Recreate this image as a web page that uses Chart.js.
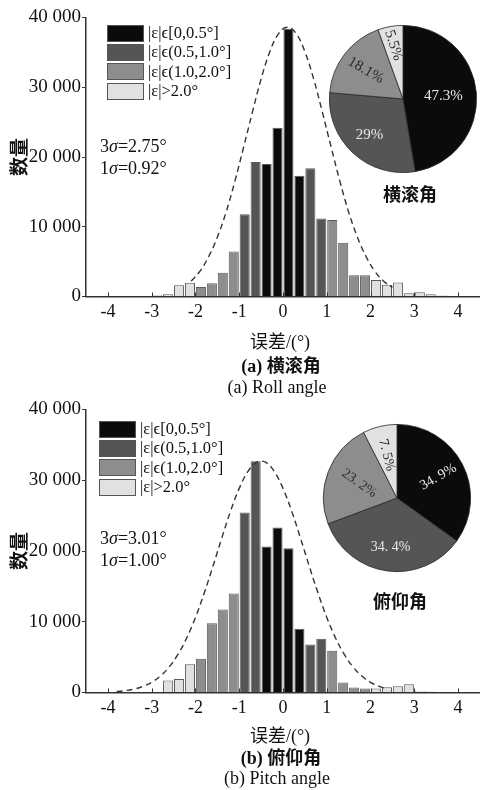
<!DOCTYPE html>
<html>
<head>
<meta charset="utf-8">
<script src="https://cdn.jsdelivr.net/npm/chart.js@4.4.1/dist/chart.umd.min.js"></script>
<style>
  html, body { margin: 0; padding: 0; background: #fff; }
  #page { position: relative; width: 480px; height: 790px; overflow: hidden;
          font-family: "Liberation Serif", "Noto Sans CJK SC", serif; color: #111; }
  canvas { position: absolute; }
  .t { position: absolute; white-space: nowrap; line-height: 1; }
  .c { transform: translate(-50%, -50%); }
  .l { transform: translateY(-50%); }
  .b { font-weight: bold; }
  .legend { position: absolute; font-size: 16.5px; }
  .row { display: flex; align-items: center; height: 19.3px; }
  .sw { width: 37px; height: 17px; border: 1px solid #555; box-sizing: border-box; margin-right: 4px; }
</style>
</head>
<body>
<div id="page">
  <canvas id="rollHist" width="480" height="340" style="left:0;top:0"></canvas>
  <canvas id="rollPie" width="150" height="150" style="left:328px;top:24px"></canvas>
  <canvas id="pitchHist" width="480" height="340" style="left:0;top:396px"></canvas>
  <canvas id="pitchPie" width="150" height="150" style="left:322px;top:423px"></canvas>

  <div class="legend" id="rollLegend" style="left:107px;top:23.5px"></div>
  <div class="t l" style="left:100px;top:146px;font-size:18px">3<i>σ</i>=2.75°</div>
  <div class="t l" style="left:100px;top:168px;font-size:18px">1<i>σ</i>=0.92°</div>
  <div class="t c b" style="left:410px;top:195px;font-size:18px">横滚角</div>
  <div class="t c" style="left:280px;top:342px;font-size:18px">误差/(°)</div>
  <div class="t c b" style="left:281px;top:366px;font-size:18px">(a) 横滚角</div>
  <div class="t c" style="left:277px;top:387px;font-size:18px">(a) Roll angle</div>

  <div class="legend" id="pitchLegend" style="left:99px;top:419.5px"></div>
  <div class="t l" style="left:100px;top:538px;font-size:18px">3<i>σ</i>=3.01°</div>
  <div class="t l" style="left:100px;top:560px;font-size:18px">1<i>σ</i>=1.00°</div>
  <div class="t c b" style="left:400px;top:602px;font-size:18px">俯仰角</div>
  <div class="t c" style="left:280px;top:736px;font-size:18px">误差/(°)</div>
  <div class="t c b" style="left:281px;top:758px;font-size:18px">(b) 俯仰角</div>
  <div class="t c" style="left:277px;top:778px;font-size:18px">(b) Pitch angle</div>
</div>

<script>
// Histogram bins: centre of each 0.25° bin
const binCenters = [-3.625, -3.375, -3.125, -2.875, -2.625, -2.375, -2.125, -1.875, -1.625, -1.375,
                    -1.125, -0.875, -0.625, -0.375, -0.125, 0.125, 0.375, 0.625, 0.875, 1.125,
                    1.375, 1.625, 1.875, 2.125, 2.375, 2.625, 2.875, 3.125, 3.375, 3.625];

// Roll-angle error counts per bin
const rollCounts = [0, 0, 0, 190, 330, 1620, 1960, 1360, 1910, 3420,
                    6450, 11800, 19300, 19000, 24200, 38400, 17300, 18400, 11200, 10950,
                    7700, 3050, 3050, 2360, 1670, 2000, 450, 620, 310, 150];

// Pitch-angle error counts per bin
const pitchCounts = [80, 0, 0, 0, 1690, 1920, 3990, 4780, 9800, 11730,
                     13980, 25430, 32700, 20650, 23320, 20400, 9000, 6800, 7600, 5910,
                     1410, 700, 560, 560, 750, 890, 1170, 190, 140, 0];

// Fitted normal curves (dashed)
const rollCurveX = [-2.1, -1.9, -1.7, -1.5, -1.3, -1.1, -0.9, -0.7, -0.5, -0.3, -0.1, 0.1,
                    0.3, 0.5, 0.7, 0.9, 1.1, 1.3, 1.5, 1.7, 1.9, 2.1, 2.3, 2.5];
const rollCurveY = [2200, 3600, 5700, 8500, 12100, 16500, 21400, 26400, 31200, 35100, 37700, 38600,
                    37700, 35100, 31200, 26400, 21400, 16500, 12100, 8500, 5700, 3600, 2200, 1300];

const pitchCurveX = [-3.8, -3.6, -3.4, -3.2, -3.0, -2.8, -2.6, -2.4, -2.2, -2.0, -1.8, -1.6, -1.4, -1.2,
                     -1.0, -0.8, -0.6, -0.4, -0.2, 0.0, 0.2, 0.4, 0.6, 0.8, 1.0, 1.2, 1.4, 1.6, 1.8,
                     2.0, 2.2, 2.3];
const pitchCurveY = [140, 270, 490, 860, 1440, 2320, 3610, 5380, 7710, 10600, 14050, 17850, 21800, 25600,
                     28850, 31250, 32550, 32550, 31250, 28850, 25600, 21800, 17850, 14050, 10600, 7710, 5380, 3610, 2320,
                     1440, 860, 660];

// Error bands (legend) and their share of samples, %
const bandLabels = ['|ε|ϵ[0,0.5°]', '|ε|ϵ(0.5,1.0°]', '|ε|ϵ(1.0,2.0°]', '|ε|>2.0°'];
const rollShares = [47.3, 29, 18.1, 5.5];
const pitchShares = [34.9, 34.4, 23.2, 7.5];

// Axis ticks
const xTicks = [-4, -3, -2, -1, 0, 1, 2, 3, 4];
const yTicks = [0, 10000, 20000, 30000, 40000];

const shades = ['#0b0b0b', '#555555', '#8d8d8d', '#dfe1e3'];
const serif = '"Liberation Serif", "Noto Sans CJK SC", serif';

function bandOf(v) {
  const a = Math.abs(v);
  return a < 0.5 ? 0 : a < 1 ? 1 : a < 2 ? 2 : 3;
}

function buildLegend(id) {
  const el = document.getElementById(id);
  bandLabels.forEach((txt, i) => {
    const row = document.createElement('div');
    row.className = 'row';
    const sw = document.createElement('div');
    sw.className = 'sw';
    sw.style.background = shades[i];
    const label = document.createElement('span');
    label.textContent = txt;
    row.appendChild(sw);
    row.appendChild(label);
    el.appendChild(row);
  });
}
buildLegend('rollLegend');
buildLegend('pitchLegend');

// short tick marks pointing into the plot on the x axis
const innerTicks = {
  id: 'innerTicks',
  afterDatasetsDraw(chart) {
    const xs = chart.scales.x, ctx = chart.ctx, b = chart.chartArea.bottom;
    ctx.save();
    ctx.strokeStyle = '#333';
    ctx.lineWidth = 1;
    xs.ticks.forEach(t => {
      const p = Math.round(xs.getPixelForValue(t.value)) + 0.5;
      ctx.beginPath();
      ctx.moveTo(p, b);
      ctx.lineTo(p, b - 4);
      ctx.stroke();
    });
    ctx.restore();
  }
};

function thousands(v) {
  return String(v).replace(/\B(?=(\d{3})+(?!\d))/g, ' ');
}

function makeHist(id, counts, cx, cy, topPad) {
  return new Chart(document.getElementById(id), {
    type: 'bar',
    data: {
      datasets: [
        {
          type: 'line',
          data: cx.map((x, i) => ({ x, y: cy[i] })),
          borderColor: '#333333',
          borderWidth: 1.4,
          borderDash: [6, 4],
          pointRadius: 0,
          tension: 0.4,
          fill: false,
          order: 0
        },
        {
          type: 'bar',
          data: binCenters.map((x, i) => ({ x, y: counts[i] })),
          backgroundColor: c => shades[bandOf(binCenters[c.dataIndex])],
          borderColor: '#5a5a5a',
          borderWidth: 1,
          barPercentage: 0.92,
          categoryPercentage: 1,
          order: 1
        }
      ]
    },
    options: {
      responsive: false,
      animation: false,
      layout: { padding: { top: topPad, right: 0, left: 0, bottom: 0 } },
      plugins: { legend: { display: false }, tooltip: { enabled: false } },
      scales: {
        x: {
          type: 'linear',
          min: -4.5,
          max: 4.5,
          offset: false,
          afterBuildTicks: s => { s.ticks = xTicks.map(v => ({ value: v })); },
          afterFit: s => { s.height = 340 - 296.5; },
          ticks: { font: { family: serif, size: 18 }, color: '#111', padding: 5, maxRotation: 0 },
          grid: { display: false, drawTicks: false },
          border: { color: '#333', width: 1.5 }
        },
        y: {
          min: 0,
          max: 40000,
          afterBuildTicks: s => { s.ticks = yTicks.map(v => ({ value: v })); },
          afterFit: s => { s.width = 86; },
          ticks: { font: { family: serif, size: 19 }, color: '#111', padding: 1,
                   callback: v => thousands(v) },
          grid: { drawOnChartArea: false, tickLength: 4, color: '#333', lineWidth: 1 },
          border: { color: '#333', width: 1.5 },
          title: { display: true, text: '数量', color: '#111',
                   font: { family: '"Noto Sans CJK SC", sans-serif', size: 19, weight: 'bold' },
                   padding: { top: 7, bottom: 0 } }
        }
      }
    },
    plugins: [innerTicks]
  });
}

makeHist('rollHist', rollCounts, rollCurveX, rollCurveY, 17.5);
makeHist('pitchHist', pitchCounts, pitchCurveX, pitchCurveY, 13.5);

// percentage labels inside the pie slices
const sliceLabels = {
  id: 'sliceLabels',
  afterDatasetsDraw(chart, args, opts) {
    const meta = chart.getDatasetMeta(0), ctx = chart.ctx;
    meta.data.forEach((arc, i) => {
      const p = arc.getProps(['x', 'y', 'startAngle', 'endAngle', 'outerRadius'], true);
      const mid = (p.startAngle + p.endAngle) / 2;
      const r = p.outerRadius * opts.radial[i];
      ctx.save();
      ctx.translate(p.x + Math.cos(mid) * r, p.y + Math.sin(mid) * r);
      ctx.rotate(opts.turn[i] * Math.PI / 180);
      ctx.fillStyle = opts.colors[i];
      ctx.font = opts.font;
      ctx.textAlign = 'center';
      ctx.textBaseline = 'middle';
      ctx.fillText(opts.text[i], 0, 0);
      ctx.restore();
    });
  }
};

function makePie(id, shares, text, radial, turn, font) {
  return new Chart(document.getElementById(id), {
    type: 'pie',
    data: {
      labels: bandLabels,
      datasets: [{
        data: shares,
        backgroundColor: shades,
        borderColor: '#262626',
        borderWidth: 0.8
      }]
    },
    options: {
      responsive: false,
      animation: false,
      layout: { padding: 1 },
      plugins: {
        legend: { display: false },
        tooltip: { enabled: false },
        sliceLabels: { text, radial, turn, font,
                       colors: ['#e8e8e8', '#e8e8e8', '#2a2a2a', '#2a2a2a'] }
      }
    },
    plugins: [sliceLabels]
  });
}

makePie('rollPie', rollShares, rollShares.map(v => v + '%'),
        [0.55, 0.67, 0.64, 0.74], [0, 0, 30, 72], '15px "Liberation Serif", serif');
makePie('pitchPie', pitchShares, pitchShares.map(v => String(v).replace('.', '. ') + '%'),
        [0.63, 0.67, 0.55, 0.6], [-30, 0, 35, 75], '14px "Liberation Serif", serif');
</script>
</body>
</html>
